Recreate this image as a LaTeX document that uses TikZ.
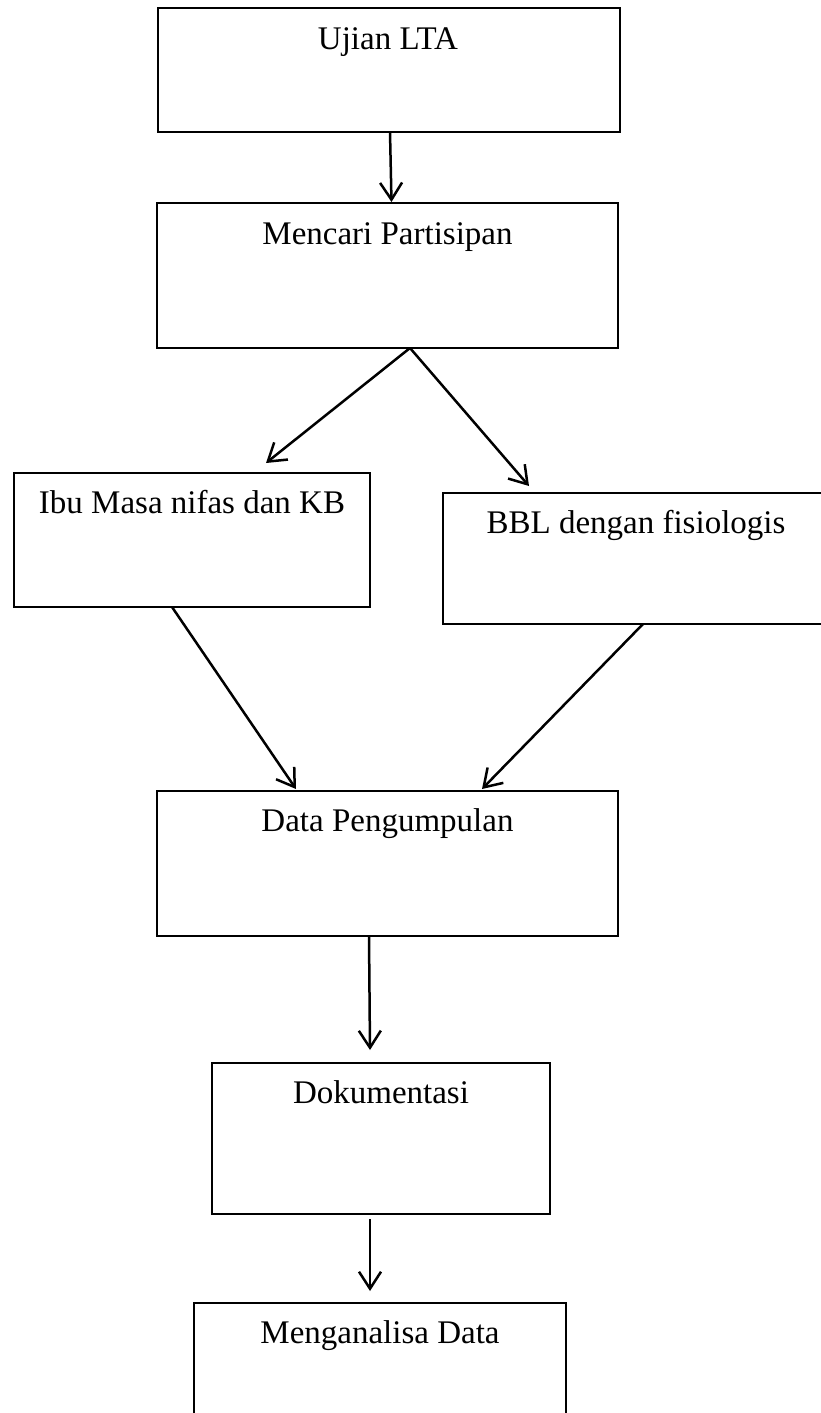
\documentclass[tikz,border=0pt]{standalone}
\usepackage{fontspec}
\setmainfont{Liberation Serif}
\usetikzlibrary{arrows.meta,calc}
\tikzset{
  box/.style={draw=black, line width=1.7pt, rectangle, anchor=north west, outer sep=0pt, inner sep=0pt},
  lbl/.style={anchor=base, inner sep=0pt, font=\fontsize{33}{39}\selectfont},
  arr/.style={draw=black, line width=2.5pt, -{Straight Barb[length=17pt,width=22pt]}}
}
\begin{document}
\begin{tikzpicture}[x=1pt,y=-1pt]
\useasboundingbox (0,0) rectangle (821,1413);
\clip (0,0) rectangle (821,1413);
\fill[white] (0,0) rectangle (821,1413);
% boxes
\node[box, minimum width=462pt, minimum height=124pt] (b1) at (158,8) {};
\node[box, minimum width=461pt, minimum height=145pt] (b2) at (157,203) {};
\node[box, minimum width=356pt, minimum height=134pt] (b3) at (14,473) {};
\node[box, minimum width=386pt, minimum height=131pt] (b4) at (443,493) {};
\node[box, minimum width=461pt, minimum height=145pt] (b5) at (157,791) {};
\node[box, minimum width=338pt, minimum height=151pt] (b6) at (212,1063) {};
\node[box, minimum width=372pt, minimum height=150pt] (b7) at (194,1303) {};
% labels
\node[lbl] (t1) at ($(b1.north)+(-1,41)$) {Ujian LTA};
\node[lbl] (t2) at ($(b2.north)+(0,41)$) {Mencari Partisipan};
\node[lbl] (t3) at ($(b3.north)+(0,40)$) {Ibu Masa nifas dan KB};
\node[lbl] (t4) at ($(b4.north)+(0,40)$) {BBL dengan fisiologis};
\node[lbl] (t5) at ($(b5.north)+(0,40)$) {Data Pengumpulan};
\node[lbl] (t6) at ($(b6.north)+(0,40)$) {Dokumentasi};
\node[lbl] (t7) at ($(b7.north)+(0,40)$) {Menganalisa Data};
% connectors
\draw[arr] ($(b1.south)+(1,0)$) -- ($(b2.north)+(4,-1)$);
\draw[arr] ($(b2.south west)+(253,0)$) -- ($(b3.north west)+(252,-10)$);
\draw[arr] ($(b2.south west)+(253,0)$) -- ($(b4.north west)+(86,-7)$);
\draw[arr] ($(b3.south west)+(158,0)$) -- ($(b5.north west)+(139,-2)$);
\draw[arr] ($(b4.south west)+(200,0)$) -- ($(b5.north west)+(325,-2)$);
\draw[arr] ($(b5.south west)+(212,0)$) -- ($(b6.north west)+(158,-13)$);
\draw[arr] ($(b6.south west)+(158,5)$) -- ($(b7.north west)+(176,-12)$);
\end{tikzpicture}
\end{document}
